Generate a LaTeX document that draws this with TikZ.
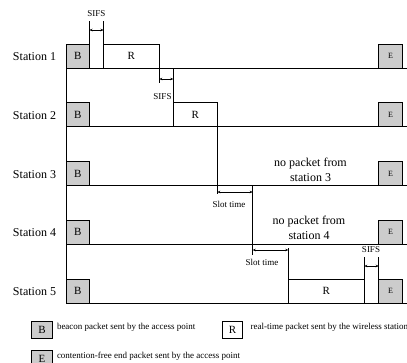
\documentclass[tikz,border=0pt]{standalone}
\usepackage{fontspec}
\setmainfont{Liberation Serif}
\usetikzlibrary{arrows.meta}

\begin{document}
\begin{tikzpicture}[x=1pt,y=1pt,line width=0.7pt]
\tikzstyle{every node}+=[inner sep=0pt,outer sep=0pt]
\tikzstyle{bbox}=[draw,fill=gray!40,minimum width=23.5pt,minimum height=24pt,font=\fontsize{11}{13}\selectfont]
\tikzstyle{ebox}=[bbox,font=\fontsize{8}{10}\selectfont]
\tikzstyle{rbox}=[draw,fill=white,minimum height=24pt,font=\fontsize{11}{13}\selectfont]
\tikzstyle{station}=[anchor=east,font=\fontsize{12}{14}\selectfont]
\tikzstyle{nopacket}=[align=center,font=\fontsize{12}{15}\selectfont]
\tikzstyle{small}=[font=\fontsize{9}{11}\selectfont]
\tikzstyle{legend}=[draw,minimum width=20.5pt,minimum height=17pt,font=\fontsize{11}{13}\selectfont]
\tikzstyle{gap}=[{Stealth[length=3pt,width=2.5pt]}-{Stealth[length=3pt,width=2.5pt]},line width=0.6pt]
\useasboundingbox (0,0) rectangle (407,-362);
% stations
\node [station] (st1) at (56,-56.7) {Station 1};
\node [station] (st2) at (56,-115.5) {Station 2};
\node [station] (st3) at (56,-174.2) {Station 3};
\node [station] (st4) at (56,-233) {Station 4};
\node [station] (st5) at (56,-291.7) {Station 5};
\coordinate (end1) at (407,-68);
\coordinate (end2) at (407,-126.75);
\coordinate (end3) at (407,-185.5);
\coordinate (end4) at (407,-244.25);
\coordinate (end5) at (407,-303);
% beacon and end packets
\node [bbox] (b1) at (77.75,-56) {B};
\node [bbox] (b2) at (77.75,-114.75) {B};
\node [bbox] (b3) at (77.75,-173.5) {B};
\node [bbox] (b4) at (77.75,-232.25) {B};
\node [bbox] (b5) at (77.75,-291) {B};
\node [ebox] (e1) at (390.5,-56) {E};
\node [ebox] (e2) at (390.5,-114.75) {E};
\node [ebox] (e3) at (390.5,-173.5) {E};
\node [ebox] (e4) at (390.5,-232.25) {E};
\node [ebox] (e5) at (390.5,-291) {E};
% real-time packets
\node [rbox,minimum width=55.8pt] (r1) at (131.4,-56) {R};
\node [rbox,minimum width=44pt] (r2) at (195.3,-114.75) {R};
\node [rbox,minimum width=76pt] (r5) at (326.3,-291) {R};
\draw (b1.south west) -- (b5.south west);
\draw (b1.south west) -- (end1);
\draw (b2.south west) -- (end2);
\draw (b3.south west) -- (end3);
\draw (b4.south west) -- (end4);
\draw (b5.south west) -- (end5);
\node [nopacket] (np3) at (310.5,-169.5) {no packet from\\station 3};
\node [nopacket] (np4) at (309,-228) {no packet from\\station 4};
% SIFS after beacon
\draw (b1.north east) -- (b1.north east |- 0,-21);
\draw (r1.north west) -- (r1.north west |- 0,-21);
\draw [gap] (b1.north east |- 0,-30) -- (r1.north west |- 0,-30);
\node [small] (sifs1) at (96.5,-14) {SIFS};
% SIFS between station 1 and 2
\draw (r1.north east) -- (r1.north east |- 0,-83);
\draw (r2.north west) -- (r2.north west |- 0,-68);
\draw [gap] (r1.north east |- 0,-79) -- (r2.north west |- 0,-79);
\node [small] (sifs2) at (162.5,-97) {SIFS};
% slot times
\coordinate (slot3) at (252.7,-185.5);
\draw (r2.north east) -- (r2.north east |- 0,-194);
\draw (slot3) -- (slot3 |- 0,-255);
\draw [gap] (r2.north east |- 0,-192) -- (slot3 |- 0,-192);
\node [small] (slot3t) at (229,-204) {Slot time};
\draw (r5.north west) -- (r5.north west |- 0,-248);
\draw [gap] (slot3 |- 0,-250) -- (r5.north west |- 0,-250);
\node [small] (slot4t) at (262,-262) {Slot time};
% SIFS before end
\draw (r5.north east) -- (r5.north east |- 0,-257);
\draw (e5.north west) -- (e5.north west |- 0,-257);
\draw [gap] (r5.north east |- 0,-266) -- (e5.north west |- 0,-266);
\node [small] (sifs5) at (371,-250) {SIFS};
% legend
\node [legend,fill=gray!40] (lb) at (42,-330) {B};
\node [small,anchor=base west] (lbt) at (57,-329.5) {beacon packet sent by the access point};
\node [legend,fill=white] (lr) at (232.5,-330) {R};
\node [small,anchor=base west] (lrt) at (250.7,-329.5) {real-time packet sent by the wireless station};
\node [legend,fill=gray!40] (le) at (42,-358.5) {E};
\node [small,anchor=base west] (let) at (57,-358) {contention-free end packet sent by the access point};
\end{tikzpicture}
\end{document}
